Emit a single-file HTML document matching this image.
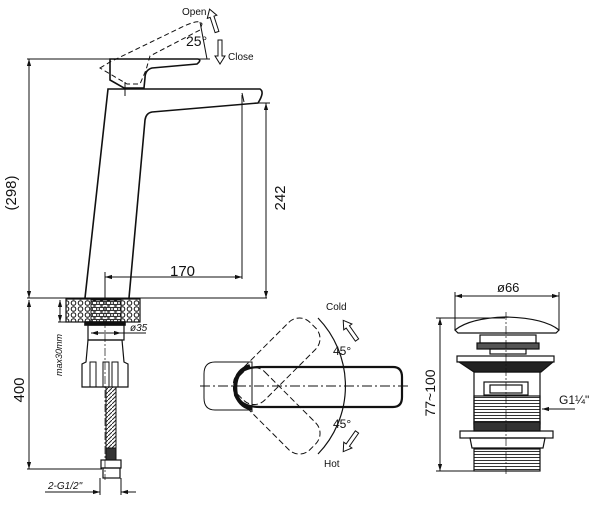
<!DOCTYPE html>
<html><head><meta charset="utf-8"><style>
html,body{margin:0;padding:0;background:#fff;width:600px;height:509px;overflow:hidden}
svg{display:block}
text{font-family:"Liberation Sans",sans-serif;fill:#111}
</style></head><body>
<svg width="600" height="509" viewBox="0 0 600 509" xmlns="http://www.w3.org/2000/svg">
<defs>
<marker id="a" viewBox="0 0 10 10" refX="10" refY="5" markerWidth="7" markerHeight="7" orient="auto-start-reverse"><path d="M0,2 L10,5 L0,8 Z" fill="#111"/></marker>
<pattern id="st" width="7" height="6" patternUnits="userSpaceOnUse"><circle cx="3.5" cy="3" r="2.3" fill="none" stroke="#111" stroke-width="1"/></pattern>
<pattern id="th" width="4" height="3" patternUnits="userSpaceOnUse"><line x1="0" y1="1.5" x2="4" y2="1.5" stroke="#333" stroke-width="1"/></pattern>
<pattern id="hs" width="4" height="4" patternUnits="userSpaceOnUse"><path d="M0,4 L4,0" stroke="#222" stroke-width="1"/></pattern>
<g id="ha"><path d="M-2,0 L-2,-16 L-5,-16 L0,-24 L5,-16 L2,-16 L2,0 Z" fill="#fff" stroke="#111" stroke-width="1"/></g>
</defs>
<g fill="none" stroke="#111" stroke-width="1.6">
<g stroke-width="1">
<line x1="27" y1="59" x2="210" y2="59"/>
<line x1="29" y1="59" x2="29" y2="298" marker-start="url(#a)" marker-end="url(#a)"/>
<line x1="27" y1="298" x2="267" y2="298"/>
<line x1="266" y1="103" x2="266" y2="298" marker-start="url(#a)" marker-end="url(#a)"/>
<line x1="258" y1="103" x2="270" y2="103"/>
<line x1="242" y1="95" x2="242" y2="279"/>
<line x1="105" y1="277" x2="242" y2="277" marker-start="url(#a)" marker-end="url(#a)"/>
<line x1="105" y1="272" x2="105" y2="300"/>
<line x1="29" y1="300" x2="29" y2="469" marker-start="url(#a)" marker-end="url(#a)"/>
<line x1="27" y1="469" x2="102" y2="469"/>
<line x1="60" y1="300" x2="60" y2="322" marker-start="url(#a)" marker-end="url(#a)"/>
<line x1="58" y1="322" x2="70" y2="322"/>
<line x1="45" y1="492" x2="100" y2="492" marker-end="url(#a)"/>
<line x1="121" y1="492" x2="136" y2="492" marker-start="url(#a)"/>
<line x1="100" y1="478" x2="100" y2="495"/><line x1="121" y1="478" x2="121" y2="495"/>
<line x1="91" y1="333" x2="121" y2="333" marker-start="url(#a)" marker-end="url(#a)"/>
<line x1="121" y1="333" x2="146" y2="333"/>
</g>
<path d="M100,68 L110,62 L180,28 Q200,18 202,24 L200,30 L150,56 L146,70 L140,84 L127,84 Z" stroke-dasharray="5,3" stroke-width="1"/>
<path d="M200,22 L207,59" stroke-width="1"/>
<use href="#ha" transform="translate(217,32) rotate(-18)"/>
<use href="#ha" transform="translate(220,40) rotate(180)"/>
<path d="M110,59 L198,59 Q202,60 197,64 L152,68 Q145,70 145,78 L144,88 L124,88 L110,80 Z"/>
<line x1="125" y1="82" x2="125" y2="96" stroke-width="1"/>
<path d="M85,298 L108,89 L260,89 Q265,92 258,103 L152,112 Q146,113 145,120 L129,298"/>
<path d="M242,93 L244,102" stroke-width="1"/>
<rect x="66" y="299" width="74" height="23" fill="url(#st)" stroke-width="1.2"/>
<rect x="91" y="300" width="30" height="22" fill="url(#th)" stroke-width="1"/>
<rect x="85" y="322" width="40" height="3" fill="#111"/>
<rect x="88" y="325" width="36" height="15" stroke-width="1.2"/>
<path d="M88,340 L122,340 L124,362 L128,364 L128,387 L82,387 L82,364 L86,362 Z" stroke-width="1.2"/>
<path d="M90,387 L90,362 L96,362 L96,387 M103,387 L103,362 L109,362 L109,387 M112,387 L112,362 L118,362 L118,387" stroke-width="1"/>
<rect x="106" y="387" width="10" height="70" fill="url(#hs)" stroke-width="1"/>
<rect x="106" y="448" width="10" height="12" fill="#333" stroke-width="1"/>
<rect x="101" y="460" width="20" height="8" stroke-width="1.2"/>
<rect x="103" y="468" width="17" height="10" stroke-width="1.2"/>
<line x1="105" y1="292" x2="105" y2="480" stroke-width="0.7" stroke-dasharray="8,2,2,2"/>
<!-- top view -->
<g stroke-width="1">
<line x1="200" y1="386" x2="408" y2="386" stroke-dasharray="10,3,2,3"/>
<line x1="252" y1="362" x2="252" y2="412" stroke-dasharray="6,2"/>
<path d="M215,362 L252,362 L252,410 L215,410 Q204,410 204,398 L204,374 Q204,362 215,362 Z"/>
<path d="M260,367 L393,367 Q402,367 402,377 L402,397 Q402,407 393,407 L260,407 Q235,407 235,387 Q235,367 260,367 Z" stroke-width="2.2"/>
<path d="M250,366 Q232,372 236,395 Q242,408 252,408" stroke-width="4"/>
<g stroke-dasharray="6,3">
<g transform="rotate(-45 252 386)"><rect x="236" y="367" width="102" height="38" rx="15"/></g>
<g transform="rotate(45 252 386)"><rect x="236" y="367" width="102" height="38" rx="15"/></g>
</g>
<path d="M318,318 A98,98 0 0 1 318,454" stroke-width="1.2"/>
<use href="#ha" transform="translate(357,340) rotate(-35)"/>
<use href="#ha" transform="translate(357,432) rotate(-145)"/>
</g>
<!-- drain -->
<g stroke-width="1.2">
<line x1="455" y1="296" x2="559" y2="296" stroke-width="1" marker-start="url(#a)" marker-end="url(#a)"/>
<line x1="455" y1="292" x2="455" y2="330" stroke-width="1"/><line x1="559" y1="292" x2="559" y2="330" stroke-width="1"/>
<line x1="440" y1="318" x2="440" y2="471" stroke-width="1" marker-start="url(#a)" marker-end="url(#a)"/>
<line x1="436" y1="318" x2="505" y2="318" stroke-width="1"/><line x1="436" y1="471" x2="476" y2="471" stroke-width="1"/>
<path d="M455,330 Q470,318 506,317 Q544,318 559,330 L556,333 L458,333 Z"/>
<rect x="480" y="335" width="56" height="8"/>
<rect x="477" y="343" width="62" height="6" fill="#555"/>
<rect x="490" y="349" width="36" height="5"/>
<rect x="457" y="356" width="97" height="6"/>
<path d="M459,362 L474,372 L541,372 L553,362 Z" fill="#222"/>
<rect x="474" y="372" width="66" height="56"/>
<rect x="484" y="382" width="44" height="13"/>
<rect x="490" y="385" width="32" height="8"/>
<rect x="474" y="396" width="66" height="28" fill="url(#th)"/>
<rect x="474" y="422" width="66" height="9" fill="#333"/>
<rect x="460" y="431" width="93" height="7"/>
<path d="M470,438 L545,438 L543,448 L472,448 Z"/>
<rect x="474" y="449" width="66" height="22" fill="url(#th)"/>
<line x1="506" y1="312" x2="506" y2="476" stroke-width="0.7" stroke-dasharray="8,2,2,2"/>
<line x1="575" y1="409" x2="542" y2="409" stroke-width="1" marker-end="url(#a)"/>
</g>
</g>
<text x="182" y="15" font-size="10">Open</text>
<text x="228" y="60" font-size="10">Close</text>
<text x="186" y="46" font-size="14">25°</text>
<text x="170" y="276" font-size="15">170</text>
<text transform="translate(16,193) rotate(-90)" text-anchor="middle" font-size="15">(298)</text>
<text transform="translate(285,198) rotate(-90)" text-anchor="middle" font-size="15">242</text>
<text transform="translate(24,390) rotate(-90)" text-anchor="middle" font-size="15">400</text>
<text transform="translate(62,355) rotate(-90)" text-anchor="middle" font-size="9" font-style="italic">max30mm</text>
<text x="130" y="331" font-size="10" font-style="italic">ø35</text>
<text x="48" y="489" font-size="10" font-style="italic">2-G1/2"</text>
<text x="326" y="310" font-size="10">Cold</text>
<text x="324" y="467" font-size="10">Hot</text>
<text x="333" y="355" font-size="12">45°</text>
<text x="333" y="428" font-size="12">45°</text>
<text x="497" y="292" font-size="13">ø66</text>
<text transform="translate(435,393) rotate(-90)" text-anchor="middle" font-size="14">77~100</text>
<text x="559" y="404" font-size="12">G1¼"</text>
</svg>
</body></html>
